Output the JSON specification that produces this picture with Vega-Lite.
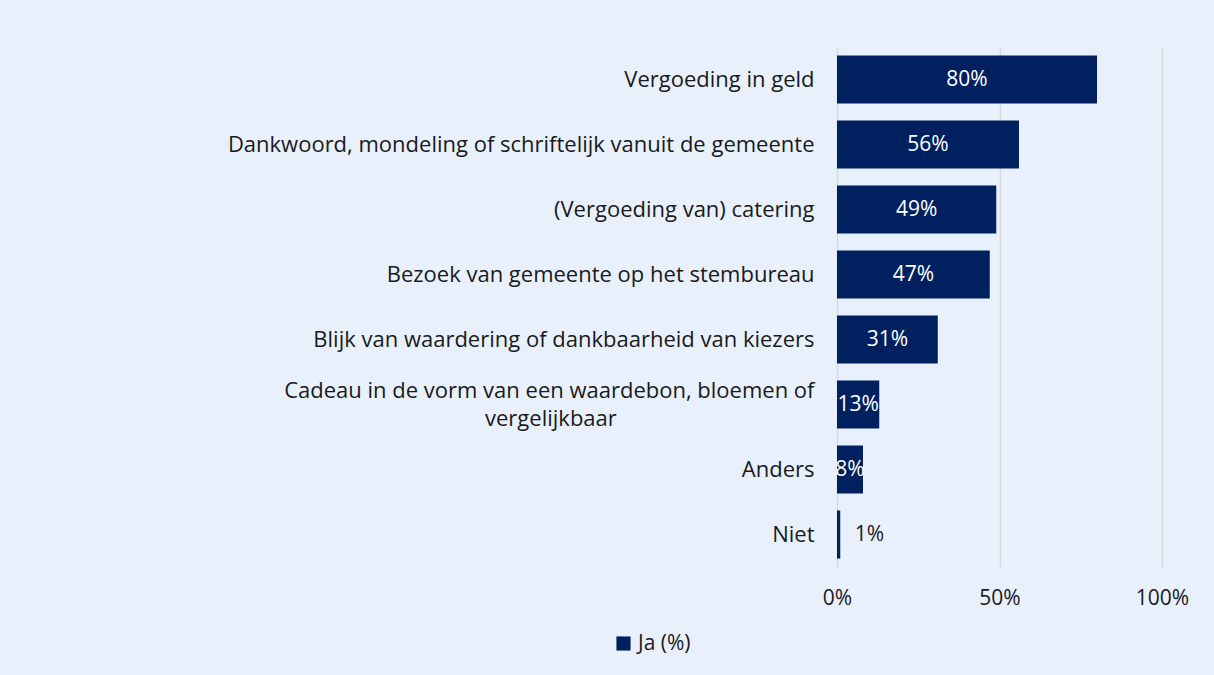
{
  "$schema": "https://vega.github.io/schema/vega-lite/v6.json",
  "width": 325,
  "height": 520,
  "autosize": {"type": "none"},
  "padding": {"left": 837, "top": 47, "right": 52, "bottom": 108},
  "background": "#E8F0FC",
  "config": {
    "view": {"stroke": null},
    "font": "Open Sans",
    "axis": {"labelFont": "Open Sans", "labelColor": "#1a1a1a"}
  },
  "data": {
    "values": [
      {"cat": "Vergoeding in geld", "v": 0.80, "lbl": "80%", "serie": "Ja (%)"},
      {"cat": "Dankwoord, mondeling of schriftelijk vanuit de gemeente", "v": 0.56, "lbl": "56%", "serie": "Ja (%)"},
      {"cat": "(Vergoeding van) catering", "v": 0.49, "lbl": "49%", "serie": "Ja (%)"},
      {"cat": "Bezoek van gemeente op het stembureau", "v": 0.47, "lbl": "47%", "serie": "Ja (%)"},
      {"cat": "Blijk van waardering of dankbaarheid van kiezers", "v": 0.31, "lbl": "31%", "serie": "Ja (%)"},
      {"cat": "Cadeau in de vorm van een waardebon, bloemen of vergelijkbaar", "v": 0.13, "lbl": "13%", "serie": "Ja (%)"},
      {"cat": "Anders", "v": 0.08, "lbl": "8%", "serie": "Ja (%)"},
      {"cat": "Niet", "v": 0.01, "lbl": "1%", "serie": "Ja (%)"}
    ]
  },
  "transform": [
    {"calculate": "datum.v < 0.05 ? datum.v + 0.09 : datum.v / 2", "as": "mid"}
  ],
  "encoding": {
    "y": {
      "field": "cat",
      "type": "nominal",
      "sort": null,
      "scale": {"paddingInner": 0.26, "paddingOuter": 0.13},
      "axis": {
        "title": null,
        "domain": false,
        "ticks": false,
        "labelFontSize": 22,
        "labelPadding": 23,
        "labelLimit": 800,
        "labelExpr": "datum.value == 'Cadeau in de vorm van een waardebon, bloemen of vergelijkbaar' ? ['Cadeau in de vorm van een waardebon, bloemen of', 'vergelijkbaar\u2800\u2800\u2800\u2800\u2800\u2800\u00a0\u2800\u2800\u2800\u2800\u2800\u2800'] : datum.value",
        "labelLineHeight": 28,
        "labelOffset": {"condition": {"test": "indexof(datum.value, 'Cadeau') == 0", "value": -14}, "value": 0}
      }
    }
  },
  "layer": [
    {
      "mark": {"type": "bar", "color": "#002060"},
      "encoding": {
        "x": {
          "field": "v",
          "type": "quantitative",
          "scale": {"domain": [0, 1], "nice": false},
          "axis": {
            "title": null,
            "values": [0, 0.5, 1],
            "format": ".0%",
            "domain": false,
            "ticks": false,
            "grid": true,
            "gridColor": "#D9D9D9",
            "gridWidth": 1.5,
            "labelFontSize": 21,
            "labelPadding": 20,
            "labelFlush": false
          }
        },
        "color": {
          "field": "serie",
          "type": "nominal",
          "scale": {"range": ["#002060"]},
          "legend": {
            "title": null,
            "orient": "none",
            "legendX": -224,
            "legendY": 586,
            "symbolType": "square",
            "symbolSize": 200,
            "labelFontSize": 21,
            "labelColor": "#1a1a1a",
            "labelFont": "Open Sans",
            "symbolOffset": 0,
            "labelOffset": 4
          }
        }
      }
    },
    {
      "mark": {"type": "text", "fontSize": 21, "baseline": "middle", "align": "center"},
      "encoding": {
        "x": {"field": "mid", "type": "quantitative"},
        "text": {"field": "lbl"},
        "color": {
          "condition": {"test": "datum.v < 0.05", "value": "#1a1a1a"},
          "value": "#ffffff"
        }
      }
    }
  ]
}
